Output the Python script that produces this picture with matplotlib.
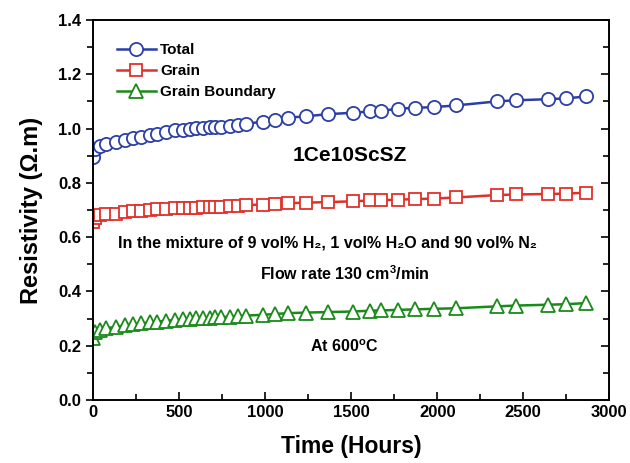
import numpy as np
import matplotlib
matplotlib.use("Agg")
import matplotlib.pyplot as plt
from matplotlib.ticker import MultipleLocator

plt.rcParams['font.family'] = ['Liberation Sans', 'DejaVu Sans']
plt.rcParams['font.weight'] = 'bold'
plt.rcParams['mathtext.fontset'] = 'custom'
plt.rcParams['mathtext.bf'] = 'Liberation Sans:bold'
plt.rcParams['mathtext.rm'] = 'Liberation Sans:bold'

# DATA
hours = [0, 12, 41, 76, 134, 186, 233, 279, 331, 372, 424, 477, 523, 564, 599,
         640, 680, 709, 744, 797, 843, 890, 988, 1058, 1134, 1238, 1366, 1512,
         1610, 1674, 1773, 1872, 1983, 2110, 2349, 2459, 2645, 2750, 2866]
total = [0.895, 0.925, 0.935, 0.944, 0.950, 0.958, 0.964, 0.970, 0.977, 0.981,
         0.987, 0.993, 0.996, 0.999, 1.001, 1.003, 1.005, 1.006, 1.006, 1.010,
         1.014, 1.018, 1.025, 1.033, 1.040, 1.045, 1.053, 1.058, 1.063, 1.065,
         1.073, 1.076, 1.079, 1.085, 1.100, 1.104, 1.108, 1.111, 1.118]
grain = [0.655, 0.672, 0.680, 0.684, 0.687, 0.692, 0.695, 0.697, 0.700, 0.702,
         0.704, 0.706, 0.707, 0.708, 0.709, 0.710, 0.711, 0.712, 0.712, 0.714,
         0.716, 0.718, 0.720, 0.723, 0.725, 0.727, 0.729, 0.732, 0.735, 0.736,
         0.738, 0.740, 0.742, 0.746, 0.755, 0.757, 0.759, 0.760, 0.764]
boundary = [0.228, 0.250, 0.258, 0.264, 0.270, 0.275, 0.279, 0.282, 0.286, 0.289,
            0.292, 0.295, 0.297, 0.299, 0.301, 0.302, 0.303, 0.304, 0.305, 0.307,
            0.309, 0.311, 0.314, 0.317, 0.320, 0.322, 0.324, 0.326, 0.329, 0.330,
            0.332, 0.334, 0.336, 0.338, 0.345, 0.348, 0.351, 0.353, 0.357]

fig = plt.figure(figsize=(6.3, 4.63), dpi=100)
ax = fig.add_axes([0.148, 0.136, 0.819, 0.821])

ax.plot(hours, total, '-o', color='#2b3fa6', mfc='white', mec='#2b3fa6',
        markersize=9.5, mew=1.3, lw=1.8, label='Total')
ax.plot(hours, grain, '-s', color='#e0302a', mfc='white', mec='#e0302a',
        markersize=8, mew=1.3, lw=1.8, label='Grain')
ax.plot(hours, boundary, '-^', color='#1a8a1a', mfc='white', mec='#1a8a1a',
        markersize=10, mew=1.3, lw=1.8, label='Grain Boundary')

ax.set_xlim(0, 3000)
ax.set_ylim(0, 1.4)
ax.xaxis.set_major_locator(MultipleLocator(500))
ax.xaxis.set_minor_locator(MultipleLocator(250))
ax.yaxis.set_major_locator(MultipleLocator(0.2))
ax.yaxis.set_minor_locator(MultipleLocator(0.1))
ax.yaxis.set_major_formatter(matplotlib.ticker.FormatStrFormatter('%.1f'))

ax.tick_params(axis='x', which='both', direction='in', top=False, labelsize=12)
ax.tick_params(axis='x', which='major', length=6, width=1.2)
ax.tick_params(axis='x', which='minor', length=4, width=1.2)
ax.tick_params(axis='y', which='both', direction='out', right=False, labelsize=12)
ax.tick_params(axis='y', which='major', length=5, width=1.2)
ax.tick_params(axis='y', which='minor', length=4, width=1.2)
# right spine ticks pointing inward
ax2 = ax.twinx()
ax2.set_ylim(0, 1.4)
ax2.yaxis.set_major_locator(MultipleLocator(0.2))
ax2.yaxis.set_minor_locator(MultipleLocator(0.1))
ax2.tick_params(axis='y', which='both', direction='in', labelright=False, width=1.2)
ax2.tick_params(axis='y', which='major', length=6)
ax2.tick_params(axis='y', which='minor', length=4)
for a in (ax, ax2):
    for s in a.spines.values():
        s.set_linewidth(1.2)

ax.set_xlabel('Time (Hours)', fontsize=16.5, fontweight='bold', labelpad=11)
ax.set_ylabel('Resistivity (\u03a9.m)', fontsize=17, fontweight='bold', labelpad=11)

ax.legend(loc='upper left', bbox_to_anchor=(0.02, 0.975), frameon=False,
          fontsize=11, handlelength=2.5, handletextpad=0.3, labelspacing=0.45)

ax.text(1491, 0.90, '1Ce10ScSZ', fontsize=15, fontweight='bold', ha='center', va='center')
ax.text(1360, 0.578, 'In the mixture of 9 vol% H\u2082, 1 vol% H\u2082O and 90 vol% N\u2082',
        fontsize=11.5, fontweight='bold', ha='center', va='center')
ax.text(1462, 0.467, r'Flow rate 130 cm$^{\mathbf{3}}$/min',
        fontsize=11.5, fontweight='bold', ha='center', va='center')
ax.text(1459, 0.196, r'At 600$^{\mathbf{o}}$C',
        fontsize=11.5, fontweight='bold', ha='center', va='center')

fig.savefig('out.png', dpi=100)
